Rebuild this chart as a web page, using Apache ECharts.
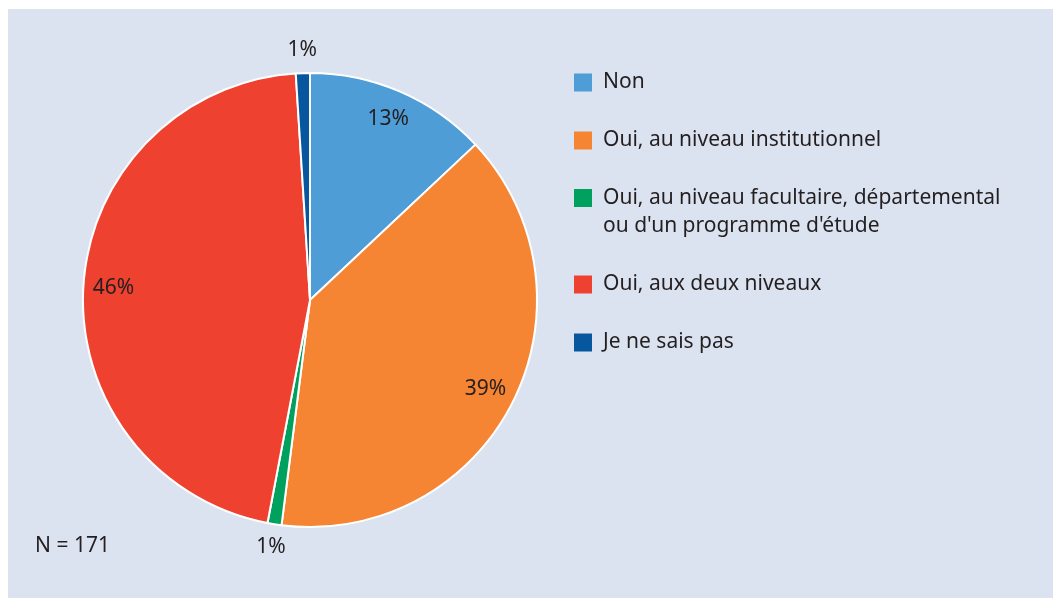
<!DOCTYPE html>
<html>
<head>
<meta charset="utf-8">
<script src="https://cdn.jsdelivr.net/npm/echarts@6/dist/echarts.min.js"></script>
<style>
    html, body { margin: 0; padding: 0; background: #fff; }
    #main { width: 1053px; height: 599px; }
</style>
</head>
<body>
<div id="main"></div>
<script>
    // données (N = 171)
    var categories = ['Non', 'Oui, au niveau institutionnel', 'Oui, au niveau facultaire, départemental\nou d\'un programme d\'étude', 'Oui, aux deux niveaux', 'Je ne sais pas'];
    var percents = [13, 39, 1, 46, 1];
    var colors = ['#4f9dd6', '#f58433', '#00a15f', '#ef4130', '#06579d'];
    var insideLabel = [true, true, false, true, false];
    var legendCenters = [82, 140, 198, 284, 342];
    var sampleNote = 'N = 171';

    var font = '"Noto Sans", "Open Sans", sans-serif';
    var textColor = '#231f20';

    var main = echarts.init(document.getElementById('main'));

    var pieData = categories.map(function (c, i) {
        return { name: c, value: percents[i], itemStyle: { color: colors[i] } };
    });

    // séries invisibles qui servent seulement à placer les étiquettes
    function ghostData(showInside) {
        return percents.map(function (v, i) {
            return {
                name: 'g' + i,
                value: v,
                label: { show: insideLabel[i] === showInside }
            };
        });
    }

    function ghostSeries(radius, showInside) {
        return {
            type: 'pie',
            silent: true,
            center: [310, 300],
            radius: radius,
            startAngle: 90,
            clockwise: true,
            itemStyle: { color: 'rgba(0,0,0,0)', borderWidth: 0 },
            emphasis: { disabled: true },
            label: {
                position: 'inside',
                color: textColor,
                fontFamily: font,
                fontSize: 21,
                formatter: function (p) { return percents[p.dataIndex] + '%'; }
            },
            labelLine: { show: false },
            data: ghostData(showInside),
            z: 3
        };
    }

    // une légende par entrée, pour garder l'icône alignée sur la première ligne
    var legends = categories.map(function (c, i) {
        var multi = c.indexOf('\n') >= 0;
        return {
            data: [c],
            orient: 'vertical',
            left: 574,
            top: multi ? legendCenters[i] - 42 : legendCenters[i] - 10,
            itemWidth: 18,
            itemHeight: 18,
            icon: 'rect',
            selectedMode: false,
            padding: 0,
            itemStyle: { borderWidth: 0 },
            formatter: function (name) { return multi ? '\n' + name : name; },
            textStyle: {
                color: textColor,
                fontFamily: font,
                fontSize: 21,
                lineHeight: multi ? 28 : 20,
                padding: [0, 0, 0, 6]
            }
        };
    });

    var option = {
        backgroundColor: '#ffffff',
        animation: false,
        graphic: [{
            type: 'rect',
            shape: { x: 8, y: 9, width: 1045, height: 589 },
            style: { fill: '#dce3f0' },
            z: -10
        }],
        title: {
            text: sampleNote,
            left: 35,
            top: 536,
            padding: 0,
            textStyle: { color: textColor, fontFamily: font, fontSize: 21, fontWeight: 'normal' }
        },
        legend: legends,
        series: [
            {
                type: 'pie',
                center: [310, 300],
                radius: [0, 227],
                startAngle: 90,
                clockwise: true,
                itemStyle: { borderColor: '#ffffff', borderWidth: 2 },
                label: { show: false },
                labelLine: { show: false },
                emphasis: { scale: false },
                data: pieData
            },
            ghostSeries([0, 388], true),
            ghostSeries([0, 494], false)
        ]
    };

    main.setOption(option);
</script>
</body>
</html>
